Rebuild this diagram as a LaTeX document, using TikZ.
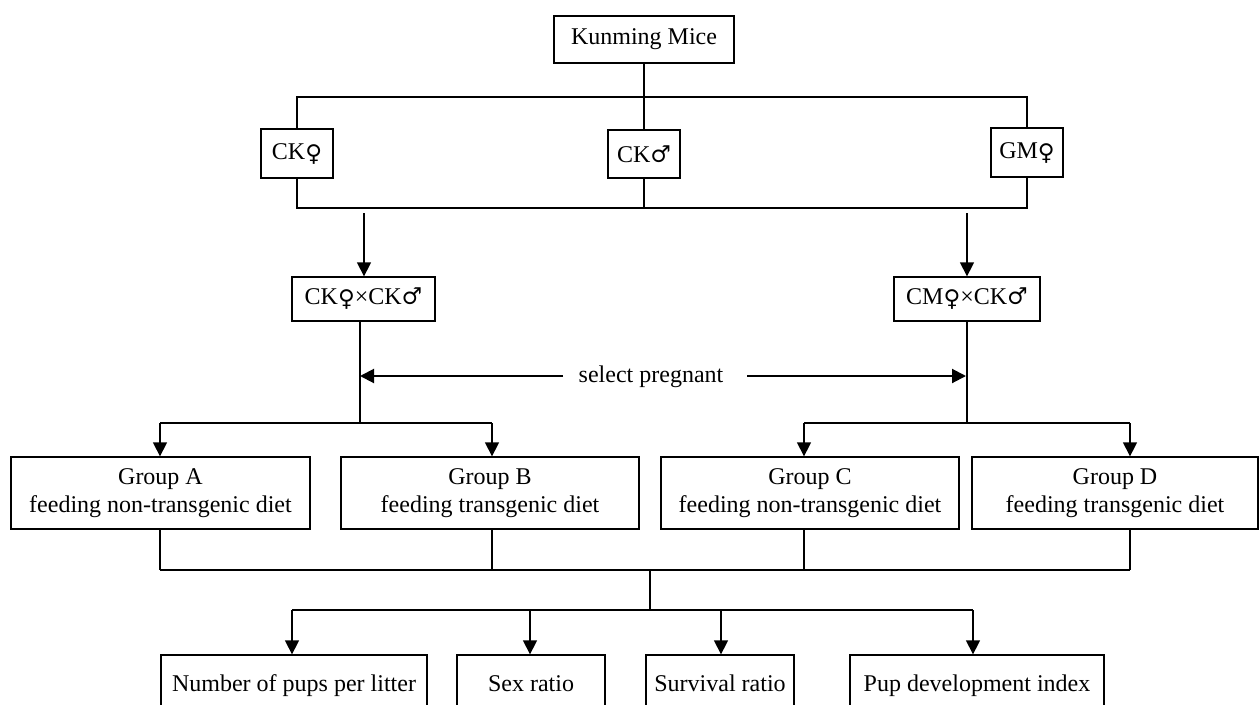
\documentclass[tikz,border=0pt]{standalone}
\usepackage{fontspec}
\setmainfont{Liberation Serif}
\newfontfamily\symf{DejaVu Serif}
\usetikzlibrary{arrows.meta}
\newcommand{\fem}{{\symf\fontsize{23}{23}\selectfont\raisebox{-2pt}{♀}}}
\newcommand{\mal}{{\symf\fontsize{23}{23}\selectfont ♂}}
\begin{document}
\begin{tikzpicture}[x=1pt,y=-1pt,
  box/.style={draw,line width=1.3pt,inner sep=0pt,font=\fontsize{24}{28}\selectfont,align=center},
  ln/.style={line width=1.3pt},
  thk/.style={line width=2pt},
  arr/.style={line width=1.3pt,-{Triangle[length=14pt,width=14pt]}},
  lbl/.style={font=\fontsize{24}{28}\selectfont,inner sep=0pt}]
\useasboundingbox (0,0) rectangle (1260,704);
\fill[white] (0,0) rectangle (1260,704);

% top
\node[box,minimum width=180pt,minimum height=47pt] (km) at (644,39.5) {Kunming Mice};
\node[box,minimum width=72pt,minimum height=49pt] (ckf) at (297,153.5) {CK\fem};
\node[box,minimum width=72pt,minimum height=48pt] (ckm) at (644,154) {CK\mal};
\node[box,minimum width=72pt,minimum height=49pt] (gmf) at (1027,152.5) {GM\fem};

\coordinate (t0) at (644,97);
\coordinate (tl) at (297,97);
\coordinate (tr) at (1027,97);
\coordinate (b0) at (644,208);
\coordinate (bl) at (297,208);
\coordinate (br) at (1027,208);
\draw[ln] (km) -- (t0);
\draw[thk] (ckf.north) -- (tl) -- (tr) -- (gmf.north);
\draw[ln] (t0) -- (ckm);
\draw[thk] (ckf.south) -- (bl) -- (br) -- (gmf.south);
\draw[ln] (ckm) -- (b0);

% crosses
\node[box,minimum width=143pt,minimum height=44pt] (x1) at (363.5,299) {CK\fem{}×CK\mal};
\node[box,minimum width=146pt,minimum height=44pt] (x2) at (967,299) {CM\fem{}×CK\mal};
\coordinate (a1) at (364,213);
\coordinate (a2) at (967,213);
\draw[arr] (a1) -- (a1 |- x1.north);
\draw[arr] (a2) -- (a2 |- x2.north);

% select pregnant
\node[lbl] (sp) at (651,377) {select pregnant};
\coordinate (c1) at (360,423);
\coordinate (c2) at (967,423);
\coordinate (s1) at (360,376);
\coordinate (s2) at (966,376);
\coordinate (sl) at (563,376);
\coordinate (sr) at (747,376);
\draw[ln] (x1.south -| c1) -- (c1);
\draw[ln] (x2.south -| c2) -- (c2);
\draw[arr,line width=2pt] (sl) -- (s1);
\draw[arr,line width=2pt] (sr) -- (s2);

% groups
\node[box,minimum width=299pt,minimum height=72pt] (ga) at (160.5,493) {Group A\\feeding non-transgenic diet};
\node[box,minimum width=298pt,minimum height=72pt] (gb) at (490,493) {Group B\\feeding transgenic diet};
\node[box,minimum width=298pt,minimum height=72pt] (gc) at (810,493) {Group C\\feeding non-transgenic diet};
\node[box,minimum width=286pt,minimum height=72pt] (gd) at (1115,493) {Group D\\feeding transgenic diet};

\coordinate (g1) at (160,423);
\coordinate (g2) at (492,423);
\coordinate (g3) at (804,423);
\coordinate (g4) at (1130,423);
\draw[thk] (g1) -- (g2);
\draw[thk] (g3) -- (g4);
\draw[arr] (g1) -- (g1 |- ga.north);
\draw[arr] (g2) -- (g2 |- gb.north);
\draw[arr] (g3) -- (g3 |- gc.north);
\draw[arr] (g4) -- (g4 |- gd.north);

\coordinate (h1) at (160,570);
\coordinate (h2) at (492,570);
\coordinate (h3) at (804,570);
\coordinate (h4) at (1130,570);
\draw[ln] (ga.south -| h1) -- (h1);
\draw[ln] (gb.south -| h2) -- (h2);
\draw[ln] (gc.south -| h3) -- (h3);
\draw[ln] (gd.south -| h4) -- (h4);
\draw[ln] (h1) -- (h4);

\coordinate (m0) at (650,570);
\coordinate (m1) at (650,610);
\draw[ln] (m0) -- (m1);

% outcomes
\node[box,minimum width=266pt,minimum height=60pt,text height=17pt,text depth=5pt] (o1) at (294,685) {Number of pups per litter};
\node[box,minimum width=148pt,minimum height=60pt,text height=17pt,text depth=5pt] (o2) at (531,685) {Sex ratio};
\node[box,minimum width=148pt,minimum height=60pt,text height=17pt,text depth=5pt] (o3) at (720,685) {Survival ratio};
\node[box,minimum width=254pt,minimum height=60pt,text height=17pt,text depth=5pt] (o4) at (977,685) {Pup development index};

\coordinate (k1) at (292,610);
\coordinate (k2) at (530,610);
\coordinate (k3) at (721,610);
\coordinate (k4) at (973,610);
\draw[thk] (k1) -- (k4);
\draw[arr] (k1) -- (k1 |- o1.north);
\draw[arr] (k2) -- (k2 |- o2.north);
\draw[arr] (k3) -- (k3 |- o3.north);
\draw[arr] (k4) -- (k4 |- o4.north);
\end{tikzpicture}
\end{document}
